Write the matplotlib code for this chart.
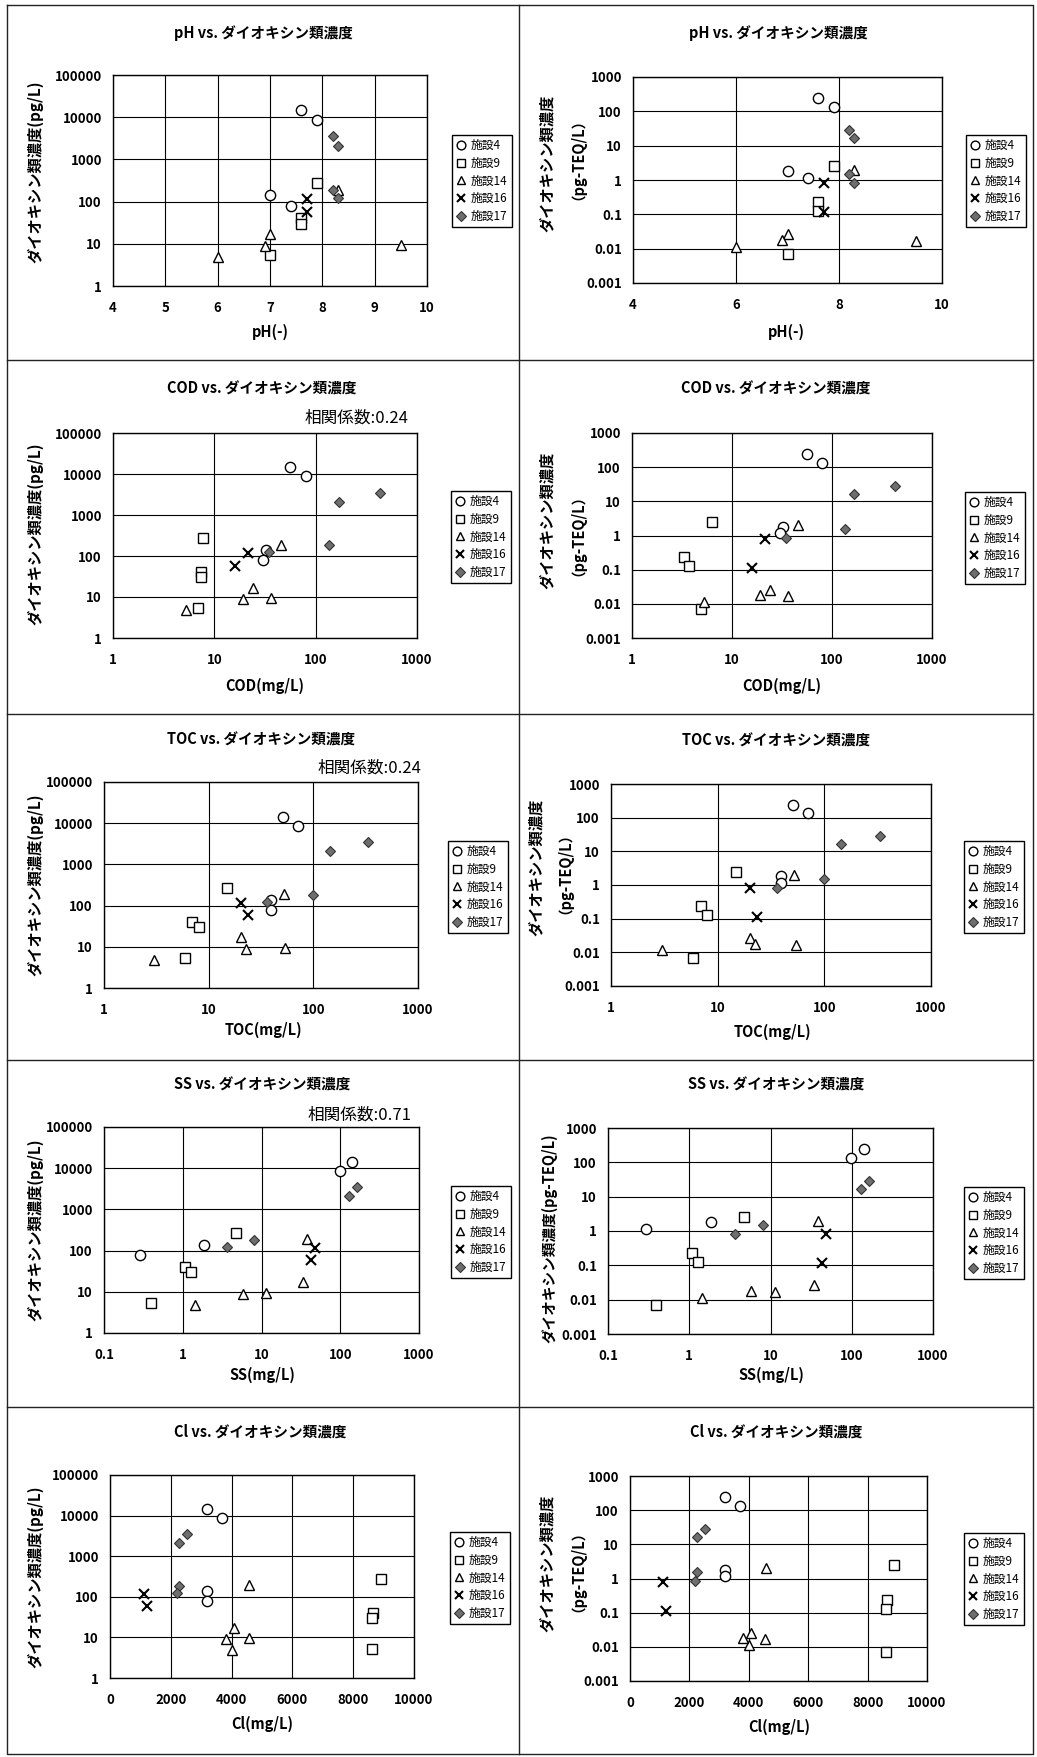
import matplotlib
matplotlib.use("Agg")
import matplotlib.pyplot as plt
from matplotlib.lines import Line2D
from matplotlib.ticker import FixedLocator, FuncFormatter, NullLocator

plt.rcParams["font.family"] = ["Noto Sans CJK JP", "DejaVu Sans"]

W, H = 1037, 1757

FACILITIES = ["施設4", "施設9", "施設14", "施設16", "施設17"]

# dioxin concentration (pg/L), one value per sample
CONC = {
    "施設4": [14500, 8700, 140, 80],
    "施設9": [270, 41, 30, 5.3],
    "施設14": [4.8, 17, 9.0, 9.6, 190],
    "施設16": [118, 58],
    "施設17": [3500, 2100, 185, 125],
}
# dioxin TEQ concentration (pg-TEQ/L), same sample order
TEQ = {
    "施設4": [240, 135, 1.8, 1.15],
    "施設9": [2.5, 0.23, 0.125, 0.007],
    "施設14": [0.0115, 0.026, 0.018, 0.017, 2.0],
    "施設16": [0.80, 0.115],
    "施設17": [29, 16.5, 1.5, 0.83],
}
PH = {
    "施設4": [7.6, 7.9, 7.0, 7.4],
    "施設9": [7.9, 7.6, 7.6, 7.0],
    "施設14": [6.0, 7.0, 6.9, 9.5, 8.3],
    "施設16": [7.7, 7.7],
    "施設17": [8.2, 8.3, 8.2, 8.3],
}
COD = {
    "施設4": [56, 80, 32, 30],
    "施設9": [7.8, 7.4, 7.4, 6.9],
    "施設14": [5.2, 24, 19, 36, 46],
    "施設16": [21.5, 16],
    "施設17": [435, 170, 135, 35],
}
# the TEQ chart plots 施設9 at different COD values
COD_TEQ_CHART = {
    "施設4": [56, 80, 32, 30],
    "施設9": [6.3, 3.3, 3.7, 4.9],
    "施設14": [5.3, 24, 19, 36, 46],
    "施設16": [21.5, 16],
    "施設17": [430, 165, 134, 35],
}
TOC = {
    "施設4": [51, 71, 39, 39],
    "施設9": [15, 7.0, 8.0, 5.9],
    "施設14": [3.0, 20.3, 22.6, 54, 52],
    "施設16": [20.3, 23.5],
    "施設17": [335, 143, 100, 36],
}
SS = {
    "施設4": [140, 98, 1.87, 0.29],
    "施設9": [4.7, 1.08, 1.28, 0.39],
    "施設14": [1.42, 34, 5.8, 11.5, 38],
    "施設16": [48, 43],
    "施設17": [165, 131, 8.0, 3.65],
}
CL = {
    "施設4": [3200, 3700, 3200, 3200],
    "施設9": [8900, 8650, 8630, 8620],
    "施設14": [4000, 4070, 3815, 4560, 4575],
    "施設16": [1125, 1225],
    "施設17": [2520, 2255, 2270, 2200],
}

CONC_TICKS = [1, 10, 100, 1000, 10000, 100000]
TEQ_TICKS = [0.001, 0.01, 0.1, 1, 10, 100, 1000]
PH_TICKS = [4, 5, 6, 7, 8, 9, 10]
PH_TICKS_TEQ = [4, 6, 8, 10]
MGL_TICKS = [1, 10, 100, 1000]
SS_TICKS = [0.1, 1, 10, 100, 1000]
CL_TICKS = [0, 2000, 4000, 6000, 8000, 10000]

CORR = {"COD": "相関係数:0.24", "TOC": "相関係数:0.24", "SS": "相関係数:0.71"}

STYLE = {
    "施設4": dict(marker="o", ms=7.4, mfc="white", mec="black", mew=1.0),
    "施設9": dict(marker="s", ms=7.0, mfc="white", mec="black", mew=1.0),
    "施設14": dict(marker="^", ms=7.6, mfc="white", mec="black", mew=1.0),
    "施設16": dict(marker="x", ms=7.2, mfc="none", mec="black", mew=1.5),
    "施設17": dict(marker="D", ms=5.5, mfc="#6e6e6e", mec="#333333", mew=0.8),
}

# pixel layout: axes box, title, x label, y label(s), legend top-left, corr text
PANELS = [
    dict(x=PH, y=CONC, xt=PH_TICKS, xlog=False, yt=CONC_TICKS, xname="pH(-)", key="pH",
         ax=(113, 75, 427, 286), title=(263, 33), xl=(270, 332),
         yl=[("ダイオキシン類濃度(pg/L)", 35, 172, 11)], leg=(452, 135)),
    dict(x=PH, y=TEQ, xt=PH_TICKS_TEQ, xlog=False, yt=TEQ_TICKS, xname="pH(-)", key="pH",
         ax=(633, 77, 942, 283), title=(778, 33), xl=(786, 332),
         yl=[("ダイオキシン類濃度", 547, 163, 11), ("（pg-TEQ/L）", 570, 152, 10.5)],
         leg=(966, 135)),
    dict(x=COD, y=CONC, xt=MGL_TICKS, xlog=True, yt=CONC_TICKS, xname="COD(mg/L)", key="COD",
         ax=(113, 433, 417, 638), title=(262, 389), xl=(265, 686),
         yl=[("ダイオキシン類濃度(pg/L)", 35, 534, 11)], leg=(451, 491),
         corr=(408, 418)),
    dict(x=COD_TEQ_CHART, y=TEQ, xt=MGL_TICKS, xlog=True, yt=TEQ_TICKS, xname="COD(mg/L)",
         key="COD", ax=(632, 433, 932, 638), title=(776, 389), xl=(782, 686),
         yl=[("ダイオキシン類濃度", 547, 520, 11), ("（pg-TEQ/L）", 570, 528, 10.5)],
         leg=(965, 492)),
    dict(x=TOC, y=CONC, xt=MGL_TICKS, xlog=True, yt=CONC_TICKS, xname="TOC(mg/L)", key="TOC",
         ax=(104, 782, 418, 988), title=(261, 740), xl=(263, 1030),
         yl=[("ダイオキシン類濃度(pg/L)", 35, 885, 11)], leg=(448, 841),
         corr=(421, 768)),
    dict(x=TOC, y=TEQ, xt=MGL_TICKS, xlog=True, yt=TEQ_TICKS, xname="TOC(mg/L)", key="TOC",
         ax=(611, 784, 931, 986), title=(776, 741), xl=(772, 1032),
         yl=[("ダイオキシン類濃度", 536, 867, 11), ("（pg-TEQ/L）", 557, 866, 10.5)],
         leg=(964, 841)),
    dict(x=SS, y=CONC, xt=SS_TICKS, xlog=True, yt=CONC_TICKS, xname="SS(mg/L)", key="SS",
         ax=(104, 1127, 419, 1333), title=(262, 1085), xl=(262, 1375),
         yl=[("ダイオキシン類濃度(pg/L)", 35, 1230, 11)], leg=(451, 1186),
         corr=(412, 1115)),
    dict(x=SS, y=TEQ, xt=SS_TICKS, xlog=True, yt=TEQ_TICKS, xname="SS(mg/L)", key="SS",
         ax=(608, 1128, 933, 1334), title=(776, 1085), xl=(771, 1375),
         yl=[("ダイオキシン類濃度(pg-TEQ/L)", 549, 1238, 10.5)], leg=(964, 1187)),
    dict(x=CL, y=CONC, xt=CL_TICKS, xlog=False, yt=CONC_TICKS, xname="Cl(mg/L)", key="Cl",
         ax=(110, 1475, 414, 1678), title=(260, 1432), xl=(262, 1724),
         yl=[("ダイオキシン類濃度(pg/L)", 35, 1577, 11)], leg=(450, 1532)),
    dict(x=CL, y=TEQ, xt=CL_TICKS, xlog=False, yt=TEQ_TICKS, xname="Cl(mg/L)", key="Cl",
         ax=(630, 1476, 927, 1681), title=(776, 1432), xl=(779, 1727),
         yl=[("ダイオキシン類濃度", 547, 1563, 11), ("（pg-TEQ/L）", 570, 1564, 10.5)],
         leg=(964, 1533)),
]


def fx(x):
    return x / W


def fy(y):
    return 1 - y / H


def fmt(v, _):
    return f"{v:g}"


def draw_panel(fig, p):
    x0, y0, x1, y1 = p["ax"]
    ax = fig.add_axes([fx(x0), fy(y1), (x1 - x0) / W, (y1 - y0) / H])
    for name in FACILITIES:
        ax.plot(p["x"][name], p["y"][name], linestyle="none", zorder=3,
                clip_on=False, **STYLE[name])
    ax.set_yscale("log")
    if p["xlog"]:
        ax.set_xscale("log")
    ax.set_xlim(p["xt"][0], p["xt"][-1])
    ax.set_ylim(p["yt"][0], p["yt"][-1])
    ax.xaxis.set_major_locator(FixedLocator(p["xt"]))
    ax.yaxis.set_major_locator(FixedLocator(p["yt"]))
    ax.xaxis.set_minor_locator(NullLocator())
    ax.yaxis.set_minor_locator(NullLocator())
    ax.xaxis.set_major_formatter(FuncFormatter(fmt))
    ax.yaxis.set_major_formatter(FuncFormatter(fmt))
    ax.grid(True, which="major", color="black", lw=0.8)
    ax.set_axisbelow(True)
    ax.tick_params(length=0, labelsize=9.5)
    ax.tick_params(axis="x", pad=11)
    ax.tick_params(axis="y", pad=8)
    for lab in ax.get_xticklabels() + ax.get_yticklabels():
        lab.set_fontweight("bold")
    for s in ax.spines.values():
        s.set_linewidth(1.0)
        s.set_color("black")

    fig.text(fx(p["title"][0]), fy(p["title"][1]), f"{p['key']} vs. ダイオキシン類濃度",
             ha="center", va="center", fontsize=10.5, fontweight="bold")
    fig.text(fx(p["xl"][0]), fy(p["xl"][1]), p["xname"], ha="center", va="center",
             fontsize=10.5, fontweight="bold")
    for text, tx, ty, size in p["yl"]:
        fig.text(fx(tx), fy(ty), text, ha="center", va="center", rotation=90,
                 fontsize=size, fontweight="bold")
    if "corr" in p:
        fig.text(fx(p["corr"][0]), fy(p["corr"][1]), CORR[p["key"]], ha="right",
                 va="center", fontsize=12)

    handles = [Line2D([], [], linestyle="none", **STYLE[n]) for n in FACILITIES]
    leg = ax.legend(handles, FACILITIES, loc="upper left",
                    bbox_to_anchor=(fx(p["leg"][0]), fy(p["leg"][1])),
                    bbox_transform=fig.transFigure, fancybox=False, framealpha=1,
                    edgecolor="black", fontsize=8.5, markerscale=0.85,
                    borderpad=0.35, labelspacing=0.4, handlelength=0.9,
                    handletextpad=0.35, borderaxespad=0)
    leg.get_frame().set_linewidth(1.0)


def main():
    fig = plt.figure(figsize=(W / 100, H / 100), dpi=100)
    for p in PANELS:
        draw_panel(fig, p)

    # cell borders like the original page layout
    border = dict(color="#222222", lw=1.0, transform=fig.transFigure)
    left, right, top, bottom = 7, 1033, 5, 1754
    fig.add_artist(Line2D([fx(left), fx(right), fx(right), fx(left), fx(left)],
                          [fy(top), fy(top), fy(bottom), fy(bottom), fy(top)], **border))
    fig.add_artist(Line2D([fx(519), fx(519)], [fy(top), fy(bottom)], **border))
    for yy in [360, 714, 1060, 1407]:
        fig.add_artist(Line2D([fx(left), fx(right)], [fy(yy), fy(yy)], **border))

    fig.savefig("out.png", dpi=100)


if __name__ == "__main__":
    main()
